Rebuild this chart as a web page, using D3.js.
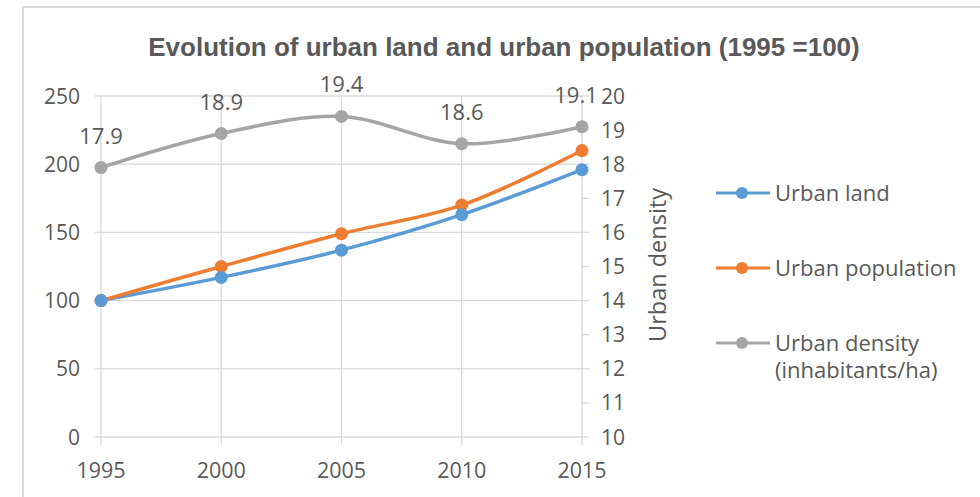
<!DOCTYPE html>
<html><head><meta charset="utf-8">
<script src="https://cdn.jsdelivr.net/npm/d3@7"></script>
<style>body{margin:0;background:#fff}svg{display:block}</style>
</head><body>
<svg id="c" width="980" height="497"></svg>
<script>
const years = ["1995","2000","2005","2010","2015"];
const urbanLand = [100, 117, 137, 163, 196];
const urbanPopulation = [100, 125, 149, 170, 210];
const urbanDensity = [17.9, 18.9, 19.4, 18.6, 19.1];
const leftTicks = [0, 50, 100, 150, 200, 250];
const rightTicks = [10, 11, 12, 13, 14, 15, 16, 17, 18, 19, 20];
const title = "Evolution of urban land and urban population (1995 =100)";
const rightTitle = "Urban density";
const legendLabels = [["Urban land"], ["Urban population"], ["Urban density", "(inhabitants/ha)"]];
const colors = ["#5B9BD5", "#ED7D31", "#A5A5A5"];

const svg = d3.select("#c");
const txt = "#595959", grid = "#D9D9D9";
const FONT = "'Open Sans', 'Noto Sans', sans-serif";

// chart border
svg.append("rect").attr("x", 23).attr("y", 7).attr("width", 1000).attr("height", 600)
  .attr("fill", "#fff").attr("stroke", grid).attr("stroke-width", 2);

const x = d3.scalePoint().domain(years).range([101, 582]);
const yL = d3.scaleLinear().domain([0, 250]).range([437, 96]);
const yR = d3.scaleLinear().domain([10, 20]).range([437, 96]);

// horizontal gridlines + left ticks
svg.append("g").selectAll("line").data(leftTicks).join("line")
  .attr("x1", 95).attr("x2", 582).attr("y1", d => yL(d)).attr("y2", d => yL(d))
  .attr("stroke", grid).attr("stroke-width", 1.3);
// vertical gridlines + bottom ticks
svg.append("g").selectAll("line").data(years).join("line")
  .attr("x1", d => x(d)).attr("x2", d => x(d)).attr("y1", 96).attr("y2", 445)
  .attr("stroke", grid).attr("stroke-width", 1.3);
// right axis ticks
svg.append("g").selectAll("line").data(rightTicks).join("line")
  .attr("x1", 582).attr("x2", 589).attr("y1", d => yR(d)).attr("y2", d => yR(d))
  .attr("stroke", grid).attr("stroke-width", 1.3);

// tick labels
svg.append("g").selectAll("text").data(leftTicks).join("text")
  .attr("x", 80).attr("y", d => yL(d)).attr("dy", "0.36em").attr("text-anchor", "end")
  .attr("font-family", FONT).attr("font-size", 21).attr("fill", txt).text(d => d);
svg.append("g").selectAll("text").data(rightTicks).join("text")
  .attr("x", 601).attr("y", d => yR(d)).attr("dy", "0.36em").attr("text-anchor", "start")
  .attr("font-family", FONT).attr("font-size", 21).attr("fill", txt).text(d => d);
svg.append("g").selectAll("text").data(years).join("text")
  .attr("x", d => x(d)).attr("y", 478).attr("text-anchor", "middle")
  .attr("font-family", FONT).attr("font-size", 21.5).attr("fill", txt).text(d => d);

// title
svg.append("text").attr("x", 504).attr("y", 56).attr("text-anchor", "middle")
  .attr("font-family", "'Liberation Sans Narrow', 'Liberation Sans', sans-serif").attr("font-weight", "bold")
  .attr("font-size", 26).attr("fill", txt).text(title);

// right axis title
svg.append("text").attr("transform", "translate(666,265) rotate(-90)").attr("text-anchor", "middle")
  .attr("font-family", FONT).attr("font-size", 23.5).attr("fill", txt).text(rightTitle);

// series
const series = [
  {vals: urbanLand, y: yL},
  {vals: urbanPopulation, y: yL},
  {vals: urbanDensity, y: yR}
];
series.forEach((s, i) => {
  const line = d3.line().x((d, j) => x(years[j])).y(d => s.y(d)).curve(d3.curveCatmullRom.alpha(0.5));
  svg.append("path").datum(s.vals).attr("d", line).attr("fill", "none")
    .attr("stroke", colors[i]).attr("stroke-width", 3.5).attr("stroke-linejoin", "round").attr("stroke-linecap", "round");
});
series.slice().reverse().forEach((s, k) => {
  const i = 2 - k;
  svg.append("g").selectAll("circle").data(s.vals).join("circle")
    .attr("cx", (d, j) => x(years[j])).attr("cy", d => s.y(d)).attr("r", 6.5).attr("fill", colors[i]);
});

// density data labels
svg.append("g").selectAll("text").data(urbanDensity).join("text")
  .attr("x", (d, j) => x(years[j]) - (j === 4 ? 6 : 0)).attr("y", d => yR(d) - 24).attr("text-anchor", "middle")
  .attr("font-family", FONT).attr("font-size", 22).attr("fill", txt).text(d => d.toFixed(1));

// legend
const legY = [193, 268, 343];
legendLabels.forEach((lab, i) => {
  const g = svg.append("g");
  g.append("line").attr("x1", 716).attr("x2", 770).attr("y1", legY[i]).attr("y2", legY[i])
    .attr("stroke", colors[i]).attr("stroke-width", 3);
  g.append("circle").attr("cx", 742).attr("cy", legY[i]).attr("r", 6).attr("fill", colors[i]);
  lab.forEach((t, k) => {
    g.append("text").attr("x", 775).attr("y", legY[i] + k * 27).attr("dy", "0.36em")
      .attr("font-family", FONT).attr("font-size", 22).attr("fill", txt).text(t);
  });
});
</script>
</body></html>
